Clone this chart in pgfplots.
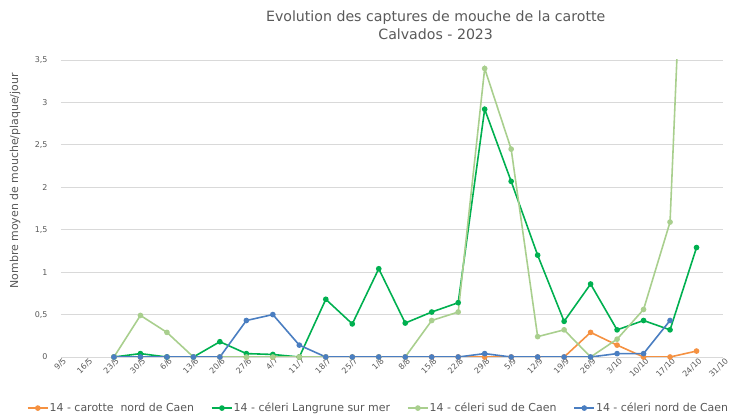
\documentclass[border=0pt]{standalone}
\usepackage{pgfplots}
\pgfplotsset{compat=1.18}
\usepackage{pgfplotstable}
\usepackage{fontspec}
\setmainfont{DejaVu Sans}
\definecolor{corange}{RGB}{245,145,65}
\definecolor{cgreen}{RGB}{0,176,80}
\definecolor{clight}{RGB}{169,207,142}
\definecolor{cblue}{RGB}{74,126,193}
\definecolor{cgrid}{RGB}{217,217,217}
\definecolor{ctext}{RGB}{89,89,89}
\pgfplotstableread{
x carotte langrune sud nord
2 0 0 0 0
3 0 0.04 0.49 0
4 0 0 0.29 0
5 0 0 0 0
6 0 0.18 0 0
7 0 0.04 0 0.43
8 0 0.03 0 0.50
9 0 0 0 0.14
10 0 0.68 0 0
11 0 0.39 0 0
12 0 1.04 0 0
13 0 0.40 0 0
14 0 0.53 0.43 0
15 0 0.64 0.53 0
16 0 2.92 3.40 0.04
17 0 2.07 2.45 0
18 0 1.20 0.24 0
19 0 0.42 0.32 0
20 0.29 0.86 0 0
21 0.14 0.32 0.21 0.04
22 0 0.43 0.56 0.04
23 0 0.32 1.59 0.43
24 0.07 1.29 9.03 nan
}\data
\begin{document}
\begin{tikzpicture}
\path[use as bounding box] (-61bp,-59bp) rectangle (674bp,357bp);
\begin{axis}[
  at={(0,0)}, anchor=south west,
  scale only axis, width=662bp, height=297bp,
  xmin=0, xmax=25, ymin=0, ymax=3.5,
  axis line style={draw=none},
  tick style={draw=none},
  ymajorgrids, grid style={cgrid, line width=0.8pt},
  ytick={0,0.5,...,3.5},
  xtick={0,...,25},
  xticklabels={9/5,16/5,23/5,30/5,6/6,13/6,20/6,27/6,4/7,11/7,18/7,25/7,1/8,8/8,15/8,22/8,29/8,5/9,12/9,19/9,26/9,3/10,10/10,17/10,24/10,31/10},
  x tick label style={rotate=45, anchor=north east, font=\fontsize{8}{9}\selectfont, text=ctext, inner sep=1pt, xshift=2pt},
  y tick label style={font=\fontsize{8}{9}\selectfont, text=ctext, xshift=-10bp},
  /pgf/number format/assume math mode=true,
  /pgf/number format/use comma,
  ylabel={Nombre moyen de mouche/plaque/jour},
  ylabel style={font=\fontsize{11}{12}\selectfont, text=ctext, at={(axis description cs:-0.0695,0.593)}, anchor=center},
  title={Evolution des captures de mouche de la carotte\\Calvados - 2023},
  title style={align=center, font=\fontsize{14.2}{18}\selectfont, text=ctext, at={(axis description cs:0.566,1.097)}, anchor=center},
  legend columns=4,
  legend style={at={(axis description cs:0.479,-0.172)}, anchor=center, draw=none, font=\fontsize{11}{12}\selectfont, text=ctext, inner sep=0pt, nodes={inner sep=1pt}, /tikz/every even column/.append style={column sep=16bp}},
  legend image code/.code={\draw[#1] (0bp,0bp) -- (20bp,0bp); \draw[#1, mark repeat=2, mark phase=2] plot coordinates {(0bp,0bp) (10bp,0bp) (20bp,0bp)};},
  every axis plot/.append style={line width=1.6pt, mark=*, mark size=2pt},
]
\addplot[corange, mark options={fill=corange}] table[x=x, y=carotte] {\data};
\addlegendentry{14 - carotte\ \ nord de Caen}
\addplot[cgreen, mark options={fill=cgreen}] table[x=x, y=langrune] {\data};
\addlegendentry{14 - céleri Langrune sur mer}
\addplot[clight, mark options={fill=clight}] table[x=x, y=sud] {\data};
\addlegendentry{14 - céleri sud de Caen}
\addplot[cblue, mark options={fill=cblue}, unbounded coords=discard] table[x=x, y=nord] {\data};
\addlegendentry{14 - céleri nord de Caen}
\node[font=\fontsize{7.5}{8}\selectfont, text=black, anchor=center] at (axis cs:23.3,3.65) {9,03};
\end{axis}
\end{tikzpicture}
\end{document}
